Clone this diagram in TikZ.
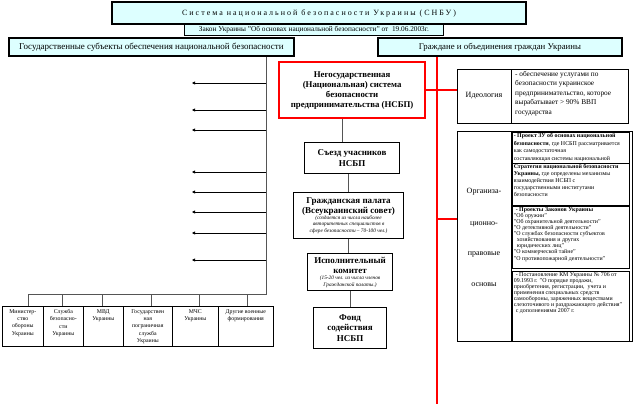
\documentclass[tikz,border=0pt]{standalone}
\usepackage{fontspec}
\setmainfont{Liberation Serif}
\newfontfamily\titlefont[LetterSpace=25]{Liberation Serif}
\usetikzlibrary{arrows.meta,calc}
\definecolor{lcyan}{RGB}{221,255,255}
\definecolor{cgray}{RGB}{85,85,85}
\newcommand\myfs[2]{\fontsize{#1}{#2}\selectfont}
\begin{document}
\begin{tikzpicture}[x=1pt,y=-1pt,
  cyanbox/.style={draw=black, line width=1.8pt, fill=lcyan, inner sep=0pt, anchor=north west, align=center},
  midbox/.style={draw=black, line width=1.1pt, fill=white, inner sep=0pt, anchor=north west, align=center},
  redbox/.style={draw=red, line width=2.2pt, fill=white, inner sep=0pt, anchor=north west, align=center},
  thinbox/.style={draw=black, line width=0.8pt, inner sep=0pt, anchor=north west},
  botbox/.style={draw=black, line width=0.6pt, inner sep=0pt, anchor=north west},
  conn/.style={draw=cgray, line width=1pt},
  redline/.style={draw=red, line width=2pt},
  arr/.style={draw=black, line width=0.8pt, -{Triangle[length=3pt,width=3pt]}},
  lbl/.style={inner sep=0pt, font=\myfs{8}{10}},
]
\useasboundingbox (0,0) rectangle (634,404);

% top
\node[cyanbox, line width=0.8pt, minimum width=259pt, minimum height=12pt, font=\myfs{7.3}{9}] (law) at (184,23)
  {Закон Украины "Об основах национальной безопасности" от~ 19.06.2003г.};
\node[cyanbox, line width=2.2pt, minimum width=414pt, minimum height=22pt, font=\titlefont\myfs{8}{10}] (title) at (111,1)
  {Система национальной безопасности Украины (СНБУ)};
\node[cyanbox, minimum width=285pt, minimum height=18pt, font=\myfs{9}{10}] (left) at (8,37)
  {Государственные субъекты обеспечения национальной безопасности};
\node[cyanbox, minimum width=244pt, minimum height=18pt, font=\myfs{8.8}{10}] (right) at (377,37)
  {Граждане и объединения граждан Украины};

% left column
\coordinate (lvt) at (266,0);
\coordinate (lvb) at (266,294);
\coordinate (busl) at (28,294);
\draw[conn] (left.south -| lvt) -- (lvb) -- (busl);
\foreach \yy in {83,110,130,172,192,212,233,260}{
  \coordinate (ae) at (192,\yy);
  \draw[arr] (lvt |- ae) -- (ae);
}

% bottom boxes
\node[botbox, minimum width=41pt, minimum height=40pt] (b1) at (2,306)
  {\parbox[t][34pt][t]{39pt}{\centering\myfs{5.8}{7.3}Министер-\\ство\\ обороны\\ Украины}};
\node[botbox, minimum width=40pt, minimum height=40pt] (b2) at (43,306)
  {\parbox[t][34pt][t]{38pt}{\centering\myfs{5.8}{7.3}Служба\\ безопасно-\\ сти\\ Украины}};
\node[botbox, minimum width=40pt, minimum height=40pt] (b3) at (83,306)
  {\parbox[t][34pt][t]{38pt}{\centering\myfs{5.8}{7.3}МВД\\ Украины}};
\node[botbox, minimum width=49pt, minimum height=40pt] (b4) at (123,306)
  {\parbox[t][34pt][t]{47pt}{\centering\myfs{5.8}{7.3}Государствен\\ ная\\ пограничная\\ служба\\ Украины}};
\node[botbox, minimum width=46pt, minimum height=40pt] (b5) at (172,306)
  {\parbox[t][34pt][t]{44pt}{\centering\myfs{5.8}{7.3}МЧС\\ Украины}};
\node[botbox, minimum width=55pt, minimum height=40pt] (b6) at (218,306)
  {\parbox[t][34pt][t]{53pt}{\centering\myfs{5.8}{7.3}Другие военные\\ формирования}};
\foreach \b/\xx in {b1/28,b2/62,b3/102,b4/151,b5/199,b6/247}{
  \coordinate (tk) at (\xx,294);
  \draw[conn] (tk) -- (tk |- \b.north);
}

% middle column
\node[redbox, minimum width=146pt, minimum height=56pt, font=\bfseries\myfs{8.8}{10}] (nsbp) at (278,61)
  {Негосударственная\\ (Национальная) система\\ безопасности\\ предпринимательства (НСБП)};
\node[midbox, minimum width=95pt, minimum height=31pt, font=\bfseries\myfs{9}{10.6}] (sz) at (304,142)
  {Съезд учасников\\ НСБП};
\node[midbox, minimum width=110pt, minimum height=46pt] (gp) at (293,192)
  {\parbox{108pt}{\centering\bfseries\myfs{9}{10}Гражданская палата\\ (Всеукраинский совет)\par\vspace{-1pt}
   \mdseries\itshape\myfs{5.3}{6.6}(создается из числа наиболее\\ авторитетных специалистов в\\ сфере безопасности – 70-100 чел.)}};
\node[midbox, minimum width=85pt, minimum height=37pt] (ik) at (307,253)
  {\parbox{83pt}{\centering\bfseries\myfs{9}{10}Исполнительный\\ комитет\par\vspace{-1pt}
   \mdseries\itshape\myfs{5.3}{7}(15-20 чел. из числа членов\\ Гражданской палаты.)}};
\node[midbox, minimum width=73pt, minimum height=41pt, font=\bfseries\myfs{9}{10.5}] (fond) at (313,307)
  {Фонд\\ содействия\\ НСБП};
\coordinate (c1) at ([xshift=-10pt]nsbp.south);
\draw[conn] (c1) -- (c1 |- sz.north);
\draw[conn] (gp.north) -- (gp.north |- sz.south);
\draw[conn] (gp.south) -- (gp.south |- ik.north);
\draw[conn] (ik.south) -- (ik.south |- fond.north);

% right column
\node[thinbox, minimum width=171pt, minimum height=54pt] (ideo) at (457,69) {};
\coordinate (d1) at (511,0);
\draw[line width=0.8pt] (ideo.north -| d1) -- (ideo.south -| d1);
\node[lbl] (ideol) at (484,96) {Идеология};
\node[inner sep=0pt, anchor=north west] (ideot) at (515,71)
  {\parbox[t]{110pt}{\raggedright\myfs{7.3}{9.5}- обеспечение услугами по\\ безопасности украинское\\ предпринимательство, которое\\ вырабатывает > 90\% ВВП\\ государства}};

\node[thinbox, minimum width=175pt, minimum height=210pt] (org) at (457,131) {};
\draw[line width=0.8pt] (org.north -| d1) -- (org.south -| d1);
\node[lbl] (og1) at (484,192) {Организа-};
\node[lbl] (og2) at (484,224) {ционно-};
\node[lbl] (og3) at (484,254) {правовые};
\node[lbl] (og4) at (484,285) {основы};

\node[botbox, minimum width=117pt, minimum height=31pt] (o1) at (512,132)
  {\parbox[t][29pt][t]{114pt}{\raggedright\myfs{5.9}{7.6}\textbf{- Проект ЗУ об основах национальной безопасности}, где НСБП рассматривается\\ как самодостаточная\\ составляющая системы национальной}};
\node[botbox, minimum width=117pt, minimum height=42pt] (o2) at (512,163)
  {\parbox[t][40pt][t]{114pt}{\raggedright\myfs{5.9}{7}\textbf{Стратегия национальной безопасности Украины,} где определены механизмы\\ взаимодействия НСБП с\\ государственными институтами\\ безопасности}};
\node[botbox, minimum width=117pt, minimum height=62pt] (o3) at (512,206)
  {\parbox[t][60pt][t]{114pt}{\raggedright\myfs{5.9}{6.1}\hspace*{2pt}\textbf{- Проекты Законов Украины}\\ "Об оружии"\\ "Об охранительной деятельности"\\ "О детективной деятельности"\\ "О службах безопасности субъектов\\ \hspace*{3pt}хозяйствования и других\\ \hspace*{3pt}юридических лиц"\\ "О коммерческой тайне"\\ "О противопожарной деятельности"}};
\node[botbox, minimum width=117pt, minimum height=70pt] (o4) at (512,271)
  {\parbox[t][68pt][t]{114pt}{\raggedright\myfs{5.9}{6}\hspace*{2pt}- Постановление КМ Украины № 706 от\\ 09.1993 г. "О порядке продажи,\\ приобретения, регистрации,~ учета и\\ применения специальных средств\\ самообороны, заряженных веществами\\ слезоточивого и раздражающего действия"\\ \hspace*{2pt}с дополнениями 2007 г.}};

% red lines
\coordinate (rv) at (437,0);
\coordinate (rvb) at (437,404);
\draw[redline] (right.south -| rv) -- (rvb);
\draw[redline] (nsbp.east) -- (nsbp.east -| ideo.west);
\coordinate (rj) at (437,219);
\draw[redline] (rj) -- (rj -| org.west);
\end{tikzpicture}
\end{document}
